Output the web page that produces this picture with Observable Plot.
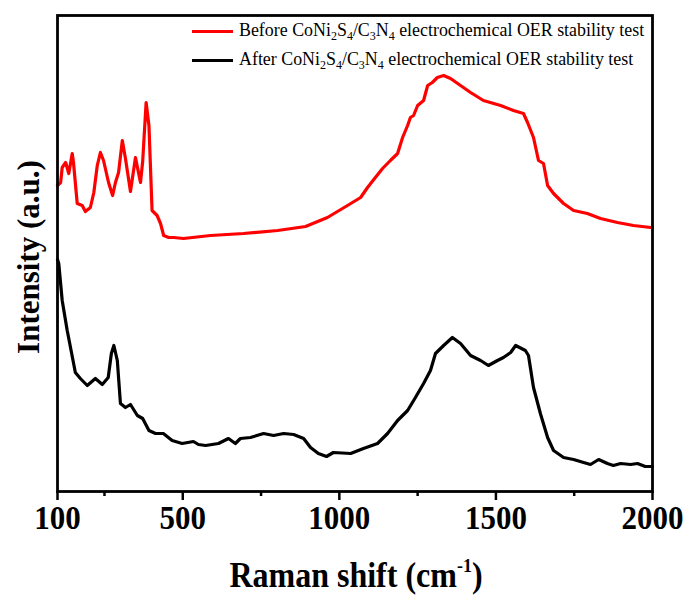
<!DOCTYPE html>
<html>
<head>
<meta charset="utf-8">
<script src="https://cdn.jsdelivr.net/npm/d3@7"></script>
<script src="https://cdn.jsdelivr.net/npm/@observablehq/plot@0.6"></script>
<style>
  html, body { margin: 0; padding: 0; background: #fff; }
  #chart { position: relative; width: 688px; height: 598px; font-family: "Liberation Serif", "Times New Roman", serif; color: #000; }
  #chart svg { display: block; }
  .legend { position: absolute; left: 192px; top: 19px; font-size: 17.9px; line-height: 1; }
  .legend .row { display: flex; align-items: center; height: 24px; margin-bottom: 5px; white-space: nowrap; }
  .legend .swatch { width: 41px; height: 3px; margin-right: 6px; }
  .legend sub { font-size: 12px; vertical-align: -4px; line-height: 0; }
  .ytitle { position: absolute; left: 28px; top: 257px; transform: translate(-50%, -50%) rotate(-90deg); font-size: 31px; font-weight: bold; white-space: nowrap; line-height: 1; }
  .xtitle { position: absolute; left: 356px; top: 559px; transform: translateX(-50%) scaleY(1.1); font-size: 32px; font-weight: bold; white-space: nowrap; line-height: 1; }
  .xtitle sup { font-size: 18px; vertical-align: 14px; line-height: 0; }
</style>
</head>
<body>
<div id="chart"></div>
<script>
// Raman spectra of CoNi2S4/C3N4 before and after the OER stability test
const shiftBefore = [100, 110, 115, 126, 136, 147, 151, 163, 179, 189, 205, 216, 227, 237, 247, 263, 276, 285, 295, 307, 317, 333, 349, 365, 372, 383, 392, 402, 418, 429, 439, 455, 471, 502, 589, 694, 803, 892, 962, 1026, 1068, 1090, 1115, 1138, 1163, 1186, 1202, 1218, 1227, 1237, 1250, 1269, 1282, 1297, 1313, 1333, 1355, 1387, 1419, 1460, 1515, 1556, 1588, 1601, 1620, 1636, 1652, 1665, 1684, 1716, 1748, 1792, 1834, 1888, 1939, 1994, 2000];
const intensityBefore = [306, 309, 324, 329, 318, 338, 329, 288, 286, 280, 284, 299, 326, 339, 331, 309, 296, 309, 319, 351, 333, 300, 334, 309, 330, 389, 366, 281, 276, 268, 256, 254, 254, 253, 256, 258, 261, 265, 274, 286, 294, 304, 314, 323, 331, 338, 354, 366, 374, 376, 386, 391, 406, 409, 414, 416, 413, 406, 399, 391, 386, 381, 378, 369, 354, 331, 328, 306, 298, 288, 281, 278, 273, 269, 266, 264, 264];

const shiftAfter = [100, 104, 115, 131, 157, 173, 195, 221, 243, 262, 272, 280, 291, 301, 317, 333, 355, 372, 392, 413, 438, 466, 498, 534, 550, 573, 614, 646, 668, 684, 716, 758, 790, 822, 854, 886, 908, 933, 959, 981, 1036, 1077, 1122, 1154, 1186, 1218, 1243, 1269, 1291, 1307, 1333, 1361, 1387, 1419, 1451, 1476, 1505, 1524, 1547, 1563, 1594, 1604, 1620, 1642, 1665, 1684, 1716, 1748, 1780, 1802, 1828, 1856, 1875, 1898, 1930, 1952, 1977, 2000];
const intensityAfter = [232, 228, 191, 161, 119, 113, 106, 113, 107, 114, 138, 146, 131, 88, 84, 87, 76, 73, 61, 58, 58, 51, 48, 50, 47, 46, 48, 53, 48, 53, 54, 58, 56, 58, 57, 53, 44, 38, 35, 39, 38, 43, 48, 58, 71, 81, 94, 108, 121, 138, 146, 154, 148, 136, 131, 126, 131, 134, 139, 146, 141, 136, 104, 78, 54, 41, 34, 32, 29, 27, 32, 28, 26, 28, 27, 28, 25, 25];

const majorTicks = [100, 500, 1000, 1500, 2000];
const minorTicks = [250, 750, 1250, 1750];

const seriesLabels = ["Before", "After"];
const seriesColors = ["#ff0000", "#000000"];

const before = shiftBefore.map((x, i) => ({shift: x, intensity: intensityBefore[i]}));
const after = shiftAfter.map((x, i) => ({shift: x, intensity: intensityAfter[i]}));

const chart = Plot.plot({
  width: 688,
  height: 598,
  marginLeft: 57,
  marginRight: 36,
  marginTop: 15,
  marginBottom: 107,
  style: {fontFamily: "'Liberation Serif', 'Times New Roman', serif", color: "#000", background: "#fff"},
  x: {domain: [100, 2000]},
  y: {domain: [0, 476], axis: null},
  marks: [
    Plot.line(before, {x: "shift", y: "intensity", stroke: seriesColors[0], strokeWidth: 3.2, strokeLinejoin: "round"}),
    Plot.line(after, {x: "shift", y: "intensity", stroke: seriesColors[1], strokeWidth: 3.2, strokeLinejoin: "round"}),
    Plot.axisX({ticks: minorTicks, tickSize: 5, text: null, label: null, strokeWidth: 2.5}),
    Plot.axisX({ticks: majorTicks, tickSize: 9, tickPadding: 4, label: null, strokeWidth: 2.5, fontSize: 31, fontWeight: "bold", tickFormat: d => String(d)}),
    Plot.frame({stroke: "#000", strokeWidth: 2.8})
  ]
});

// taller, narrower look for the tick numbers
d3.select(chart).selectAll("g[aria-label='x-axis tick label'] text").each(function () {
  const t = d3.select(this);
  t.attr("transform", (t.attr("transform") || "") + " scale(1,1.12)");
});

const root = document.getElementById("chart");
root.appendChild(chart);

// axis titles
const yTitle = document.createElement("div");
yTitle.className = "ytitle";
yTitle.textContent = "Intensity (a.u.)";
root.appendChild(yTitle);

const xTitle = document.createElement("div");
xTitle.className = "xtitle";
xTitle.innerHTML = "Raman shift (cm<sup>-1</sup>)";
root.appendChild(xTitle);

// legend in the upper right of the frame
const legend = document.createElement("div");
legend.className = "legend";
seriesLabels.forEach((name, i) => {
  const row = document.createElement("div");
  row.className = "row";
  const sw = document.createElement("span");
  sw.className = "swatch";
  sw.style.background = seriesColors[i];
  const txt = document.createElement("span");
  txt.innerHTML = name + " CoNi<sub>2</sub>S<sub>4</sub>/C<sub>3</sub>N<sub>4</sub> electrochemical OER stability test";
  row.appendChild(sw);
  row.appendChild(txt);
  legend.appendChild(row);
});
root.appendChild(legend);
</script>
</body>
</html>
